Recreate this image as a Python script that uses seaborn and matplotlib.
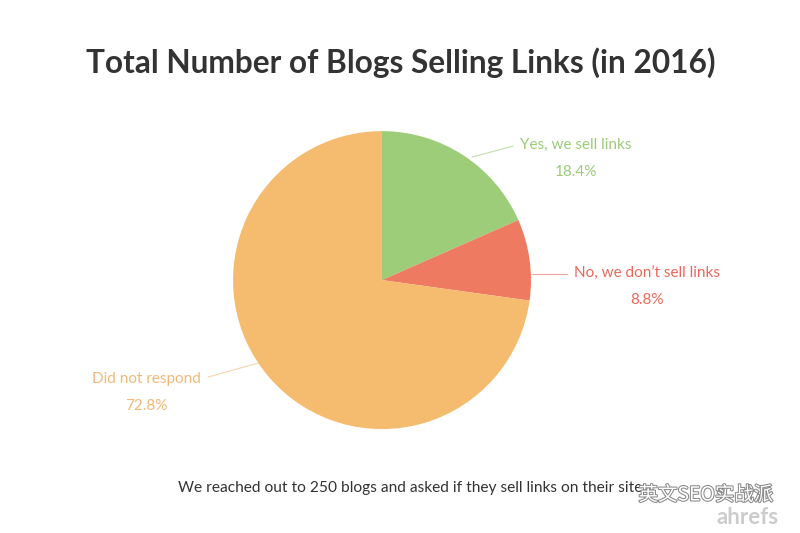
import matplotlib
matplotlib.use('Agg')
import matplotlib.pyplot as plt
import matplotlib.patheffects as pe
import seaborn as sns

sns.set_theme(style='white')
plt.rcParams['font.family'] = ['Lato', 'Noto Sans CJK SC', 'DejaVu Sans']

# data
labels = ['Yes, we sell links', 'No, we don\u2019t sell links', 'Did not respond']
shares = [18.4, 8.8, 72.8]
colors = ['#9dcd78', '#ee7a62', '#f5bb6f']
text_colors = ['#9ccb78', '#e9685a', '#f3b877']

fig = plt.figure(figsize=(8, 5.33), dpi=100)
ax = fig.add_axes([0.29125, 0.195, 0.3725, 0.559])
ax.pie(shares, colors=colors, startangle=90, counterclock=False, radius=1,
       wedgeprops={'linewidth': 0})
ax.set_xlim(-1, 1)
ax.set_ylim(-1, 1)
ax.axis('off')

# label placement in pie units (leader start, leader end, text anchor)
cx, cy, r = 382, 280, 149
def px(x, y):
    return ((x - cx) / r, (cy - y) / r)

leaders = [((472, 157), (513, 146)), ((532, 274), (567, 274)), ((258, 363), (208, 377))]
name_pos = [(576, 145), (647, 274), (146, 379)]
pct_pos = [(576, 172), (647, 300), (146, 406)]

for i in range(3):
    (x0, y0), (x1, y1) = leaders[i]
    a, b = px(x0, y0)
    c, d = px(x1, y1)
    ax.plot([a, c], [b, d], color=text_colors[i], lw=0.8, alpha=0.6, clip_on=False)
    nx, ny = px(*name_pos[i])
    ax.text(nx, ny, labels[i], color=text_colors[i], fontsize=11, ha='center', va='center', clip_on=False)
    qx, qy = px(*pct_pos[i])
    ax.text(qx, qy, f'{shares[i]}%', color=text_colors[i], fontsize=11, ha='center', va='center', clip_on=False)

fig.text(401 / 800, 1 - 63 / 533, 'Total Number of Blogs Selling Links (in 2016)', ha='center', va='center',
         fontsize=22.8, fontweight='bold', color='#333333')
fig.text(178 / 800, 1 - 488 / 533, 'We reached out to 250 blogs and asked if they sell links on their site',
         ha='left', va='center', fontsize=11.2, color='#333333')

# watermark
fig.text(706 / 800, 1 - 495 / 533, '英文SEO实战派', ha='center', va='center', fontsize=14,
         color='white', family=['Noto Sans CJK SC', 'DejaVu Sans'],
         path_effects=[pe.withStroke(linewidth=1.5, foreground='#8a8a8a')])
fig.text(748 / 800, 1 - 517 / 533, 'ahrefs', ha='center', va='center', fontsize=16,
         fontweight='bold', color='#cccccc')

fig.savefig('out.png', dpi=100)
